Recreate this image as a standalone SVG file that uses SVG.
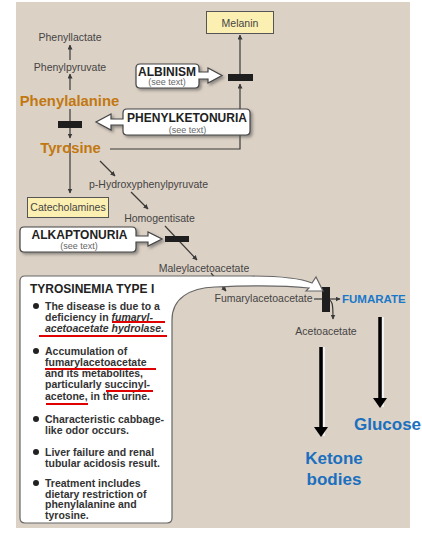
<svg xmlns="http://www.w3.org/2000/svg" width="422" height="535" viewBox="0 0 422 535">
<style>
.m{font-family:"Liberation Sans",Arial,sans-serif;font-size:10.5px;fill:#444;text-anchor:middle}
.aa{font-family:"Liberation Sans",Arial,sans-serif;font-size:14.8px;font-weight:bold;fill:#c27810;text-anchor:middle}
.ct{font-family:"Liberation Sans",Arial,sans-serif;font-size:12px;font-weight:bold;fill:#222;text-anchor:middle}
.st{font-family:"Liberation Sans",Arial,sans-serif;font-size:9px;fill:#666;text-anchor:middle}
.bt{font-family:"Liberation Sans",Arial,sans-serif;font-size:10.5px;font-weight:bold;fill:#333}
.bl{font-family:"Liberation Sans",Arial,sans-serif;font-weight:bold;fill:#1a6fbf}
.box{fill:#fcefb2;stroke:#555;stroke-width:1}
.co{fill:#fff;stroke:#444;stroke-width:1.2;filter:url(#sh)}
.ln{stroke:#3a3a3a;stroke-width:1.2;fill:none}
.bar{fill:#1e1e1e}
.ru{stroke:#e00000;stroke-width:2}
.tk{stroke:#000;stroke-width:3.5}
.tks{stroke:#f2f2f2;stroke-width:2}
</style>
<defs>
<marker id="a" viewBox="0 0 10 10" refX="9" refY="5" markerWidth="5" markerHeight="5" markerUnits="userSpaceOnUse" orient="auto">
<path d="M0,0 L10,5 L0,10 Z" fill="#3a3a3a"/>
</marker>
<filter id="sh" x="-10%" y="-10%" width="130%" height="140%">
<feDropShadow dx="2" dy="2" stdDeviation="1.5" flood-color="#555" flood-opacity="0.6"/>
</filter>
</defs>
<rect x="16" y="2" width="394" height="526" fill="#dcd1c5"/>

<g id="connectors">
<line class="ln" x1="70" y1="60" x2="70" y2="45" marker-end="url(#a)"/>
<line class="ln" x1="70" y1="90" x2="70" y2="74" marker-end="url(#a)"/>
<line class="ln" x1="70" y1="109" x2="70" y2="138" marker-end="url(#a)"/>
<polyline class="ln" points="110,149 240,149 240,84" marker-end="url(#a)"/>
<line class="ln" x1="240" y1="74" x2="240" y2="35" marker-end="url(#a)"/>
<line class="ln" x1="70" y1="143" x2="70" y2="193" marker-end="url(#a)"/>
<line class="ln" x1="100" y1="161" x2="115" y2="176" marker-end="url(#a)"/>
<line class="ln" x1="131" y1="192" x2="148" y2="209" marker-end="url(#a)"/>
<line class="ln" x1="165" y1="226" x2="197" y2="260" marker-end="url(#a)"/>
<line class="ln" x1="211" y1="273" x2="226" y2="291" marker-end="url(#a)"/>
<line class="ln" x1="314" y1="299" x2="340" y2="299" marker-end="url(#a)"/>
<path class="ln" d="M326,299 C333,299 333,305 333,319" marker-end="url(#a)"/>
<rect class="bar" x="58" y="121" width="24" height="7"/>
<rect class="bar" x="228" y="74" width="25" height="7"/>
<rect class="bar" x="165" y="236" width="24" height="6"/>
<rect class="bar" x="322" y="287" width="8" height="25"/>
<line class="tks" x1="324" y1="347" x2="324" y2="436"/>
<line class="tk" x1="321" y1="347" x2="321" y2="428"/>
<polygon points="314,427 328,427 321,437" fill="#000"/>
<line class="tks" x1="383" y1="317" x2="383" y2="407"/>
<line class="tk" x1="380" y1="317" x2="380" y2="399"/>
<polygon points="373,398 387,398 380,408" fill="#000"/>
</g>

<g id="phenyllactate"><text class="m" x="70" y="41">Phenyllactate</text></g>
<g id="phenylpyruvate"><text class="m" x="70" y="71">Phenylpyruvate</text></g>
<g id="phenylalanine"><text class="aa" x="69.5" y="105.5">Phenylalanine</text></g>
<g id="tyrosine"><text class="aa" x="70.5" y="153">Tyrosine</text></g>
<g id="melanin"><rect class="box" x="206.5" y="11.5" width="67" height="22"/><text class="m" x="240" y="26.5">Melanin</text></g>
<g id="catecholamines"><rect class="box" x="27.5" y="197.5" width="81" height="20"/><text class="m" x="68" y="211">Catecholamines</text></g>
<g id="p-hpp"><text class="m" x="148.5" y="188">p-Hydroxyphenylpyruvate</text></g>
<g id="homogentisate"><text class="m" x="159.5" y="222">Homogentisate</text></g>
<g id="maleylacetoacetate"><text class="m" x="204" y="272">Maleylacetoacetate</text></g>

<g id="albinism">
<path class="co" d="M140,64 H195 Q199,64 199,68 V72 H208 V68 L222,75.5 L208,83 V79 H199 V84 Q199,88 195,88 H140 Q136,88 136,84 V68 Q136,64 140,64 Z"/>
<text class="ct" x="167" y="75.5">ALBINISM</text>
<text class="st" x="167" y="85">(see text)</text>
</g>
<g id="phenylketonuria">
<path class="co" d="M127,109 H246 Q250,109 250,113 V131 Q250,135 246,135 H127 Q123,135 123,131 V125 H111 V130 L96,122 L111,114 V119 H123 V113 Q123,109 127,109 Z"/>
<text class="ct" x="187" y="122">PHENYLKETONURIA</text>
<text class="st" x="187.5" y="132.5">(see text)</text>
</g>
<g id="alkaptonuria">
<path class="co" d="M24,227 H132 Q136,227 136,231 V236 H148 V232 L162,239 L148,246 V242 H136 V248 Q136,252 132,252 H24 Q20,252 20,248 V231 Q20,227 24,227 Z"/>
<text class="ct" x="79.5" y="238.5">ALKAPTONURIA</text>
<text class="st" x="79" y="248.5">(see text)</text>
</g>

<g id="tyrosinemia">
<path fill="#fff" stroke="#666" stroke-width="1.2" d="M25,276 H250 C280,276 300,278 312,283 L316,277 L323,291 L306,291 L309,288 C290,286 260,285 215,287 C190,288 172,298 172,320 V518 Q172,523 167,523 H25 Q20,523 20,518 V281 Q20,276 25,276 Z"/>
<text class="bt" x="30" y="292.5" style="font-size:12px;fill:#222">TYROSINEMIA TYPE I</text>
<circle cx="36" cy="306" r="3" fill="#222"/>
<circle cx="36" cy="351" r="3" fill="#222"/>
<circle cx="36" cy="419" r="3" fill="#222"/>
<circle cx="36" cy="452" r="3" fill="#222"/>
<circle cx="36" cy="483" r="3" fill="#222"/>
<text class="bt" x="45" y="310">The disease is due to a</text>
<text class="bt" x="45" y="321">deficiency in <tspan font-style="italic">fumaryl-</tspan></text>
<text class="bt" x="45" y="332" font-style="italic">acetoacetate hydrolase.</text>
<text class="bt" x="45" y="355">Accumulation of</text>
<text class="bt" x="45" y="366">fumarylacetoacetate</text>
<text class="bt" x="45" y="377">and its metabolites,</text>
<text class="bt" x="45" y="388">particularly succinyl-</text>
<text class="bt" x="45" y="399.5">acetone, in the urine.</text>
<text class="bt" x="45" y="423">Characteristic cabbage-</text>
<text class="bt" x="45" y="434">like odor occurs.</text>
<text class="bt" x="45" y="456">Liver failure and renal</text>
<text class="bt" x="45" y="466.5">tubular acidosis result.</text>
<text class="bt" x="45" y="487">Treatment includes</text>
<text class="bt" x="45" y="497.5">dietary restriction of</text>
<text class="bt" x="45" y="508">phenylalanine and</text>
<text class="bt" x="45" y="518.5">tyrosine.</text>
<line class="ru" x1="112" y1="322" x2="165" y2="322"/>
<line class="ru" x1="39" y1="336" x2="167" y2="336"/>
<line class="ru" x1="45" y1="369" x2="156" y2="369"/>
<line class="ru" x1="106" y1="391" x2="153" y2="391"/>
<line class="ru" x1="46" y1="404" x2="88" y2="404"/>
</g>

<g id="fumarylacetoacetate"><text class="m" x="263.5" y="302">Fumarylacetoacetate</text></g>
<g id="fumarate"><text class="bl" x="342" y="303" style="font-size:11.5px;fill:#1a78c8">FUMARATE</text></g>
<g id="acetoacetate"><text class="m" x="326" y="335">Acetoacetate</text></g>
<g id="glucose"><text class="bl" x="354" y="430" style="font-size:17px">Glucose</text></g>
<g id="ketone-bodies"><text class="bl" x="334" y="464" text-anchor="middle" style="font-size:17px">Ketone</text><text class="bl" x="334" y="485" text-anchor="middle" style="font-size:17px">bodies</text></g>
</svg>
